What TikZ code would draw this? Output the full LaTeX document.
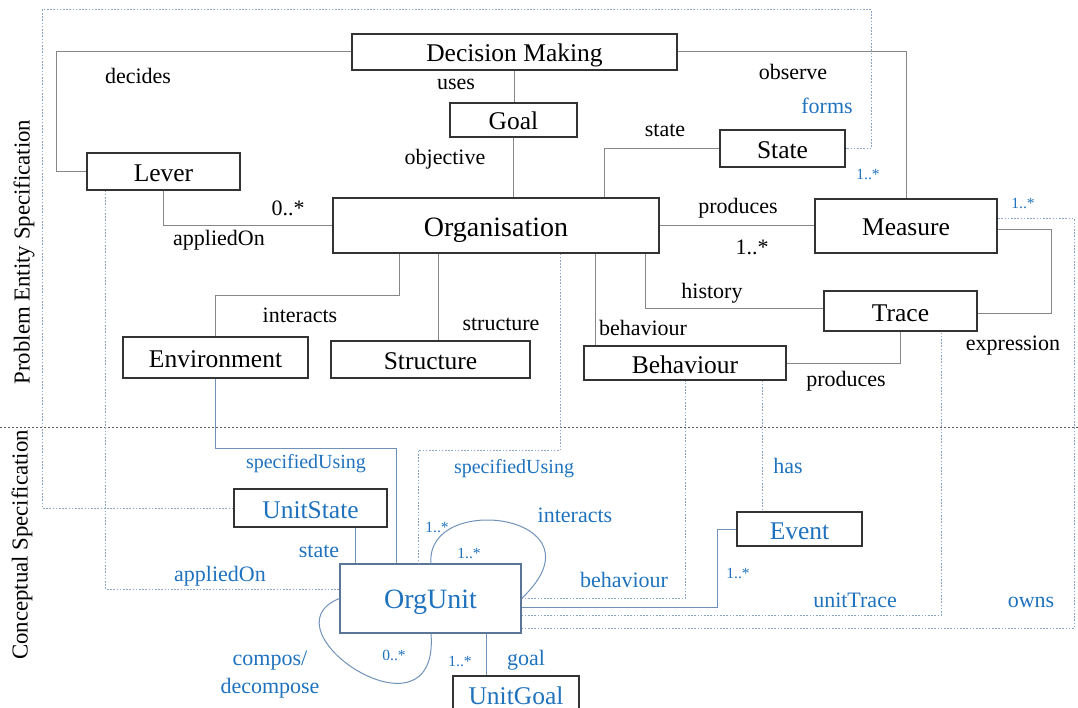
\documentclass[tikz,border=0pt]{standalone}
\usepackage{fontspec}
\setmainfont{Liberation Serif}
\usetikzlibrary{positioning}

\definecolor{unitblue}{RGB}{31,114,189}
\definecolor{dotblue}{RGB}{140,164,196}
\definecolor{edgeblue}{RGB}{112,146,186}
\definecolor{edgegray}{RGB}{135,135,135}

\tikzset{
	entity/.style={draw=black!80, line width=1.1pt, fill=white, inner sep=0pt, text height=20pt, text depth=0pt, font=\fontsize{25.5}{28}\selectfont},
	unitbox/.style={entity, text=unitblue},
	rel/.style={draw=edgegray, line width=1pt},
	unitrel/.style={draw=edgeblue, line width=1pt},
	dotrel/.style={draw=dotblue, line width=1pt, dash pattern=on 1.6pt off 1.6pt},
	lbl/.style={font=\fontsize{22}{24}\selectfont, inner sep=0pt},
	unitlbl/.style={lbl, text=unitblue},
	multlbl/.style={font=\fontsize{15.5}{17}\selectfont, text=unitblue, inner sep=0pt}
}

\begin{document}
\begin{tikzpicture}[x=1pt, y=-1pt]
		\useasboundingbox (0,0) rectangle (1078,708);

		% problem entities
		\node[entity, minimum width=325, minimum height=36] (decision) at (514.5,52) {Decision Making};
		\node[entity, minimum width=127, minimum height=34] (goal) at (513.5,120) {Goal};
		\node[entity, minimum width=153, minimum height=37] (lever) at (163.5,171.5) {Lever};
		\node[entity, minimum width=125, minimum height=37] (state) at (782.5,148.5) {State};
		\node[entity, minimum width=326, minimum height=55, text height=23pt, font=\fontsize{28}{30}\selectfont] (organisation) at (496,225.5) {Organisation};
		\node[entity, minimum width=182, minimum height=54] (measure) at (906,226) {Measure};
		\node[entity, minimum width=153, minimum height=40] (trace) at (900.5,311) {Trace};
		\node[entity, minimum width=185, minimum height=41] (environment) at (215.5,357.5) {Environment};
		\node[entity, minimum width=199, minimum height=37] (structure) at (430.5,359.5) {Structure};
		\node[entity, minimum width=202, minimum height=34] (behaviour) at (685,363) {Behaviour};

		% conceptual entities
		\node[unitbox, minimum width=153, minimum height=38] (unit_state) at (310.5,508) {UnitState};
		\node[unitbox, draw=edgeblue!80!black, minimum width=181, minimum height=69, font=\fontsize{28}{30}\selectfont] (org_unit) at (430.5,598.5) {OrgUnit};
		\node[unitbox, minimum width=125, minimum height=34] (event) at (799.5,529) {Event};
		\node[unitbox, minimum width=126, minimum height=36] (unit_goal) at (516,694) {UnitGoal};

		\draw[draw=black!65, line width=0.8pt, dash pattern=on 2pt off 2pt] (0,427) -- (1078,427);
		\node[lbl, rotate=90, font=\fontsize{22.8}{24}\selectfont] (problem_label) at (24,252) {Problem Entity Specification};
		\node[lbl, rotate=90, font=\fontsize{22.8}{24}\selectfont] (conceptual_label) at (22,545) {Conceptual Specification};

		% associations between problem entities
		\draw[rel] (decision.west) -| ([xshift=-30]lever.west) -- (lever.west);
		\draw[rel] (decision.south) -- (decision.south |- goal.north);
		\draw[rel] (goal.south) -- (goal.south |- organisation.north);
		\draw[rel] ([xshift=108]organisation.north) |- (state.west);
		\draw[rel] (decision.east) -| (measure.north);
		\draw[rel] (organisation.east) -- (organisation.east -| measure.west);
		\draw[rel] (lever.south) |- (organisation.west);
		\draw[rel] ([xshift=-97]organisation.south) |- ([yshift=41]environment.north) -- (environment.north);
		\draw[rel] ([xshift=-58]organisation.south) -- ([xshift=-58]organisation.south |- structure.north);
		\draw[rel] ([xshift=99]organisation.south) -- ([xshift=99]organisation.south |- behaviour.north);
		\draw[rel] ([xshift=149]organisation.south) |- ([yshift=2]trace.west);
		\draw[rel] ([yshift=-4]measure.east) -| ([xshift=74,yshift=-3]trace.east) -- ([yshift=-3]trace.east);
		\draw[rel] (behaviour.east) -| (trace.south);

		\node[lbl] (decides_label) at (138,76) {decides};
		\node[lbl] (uses_label) at (456,84) {uses};
		\node[lbl] (objective_label) at (445,159) {objective};
		\node[lbl] (state_label) at (665,130) {state};
		\node[lbl] (observe_label) at (793,72) {observe};
		\node[lbl] (produces_label) at (738,208) {produces};
		\node[lbl] (measure_mult) at (752,247) {1..*};
		\node[lbl] (lever_mult) at (288,208) {0..*};
		\node[lbl] (applied_label) at (219,240) {appliedOn};
		\node[lbl] (interacts_label) at (300,315) {interacts};
		\node[lbl] (structure_label) at (501,324) {structure};
		\node[lbl] (behaviour_label) at (643,328) {behaviour};
		\node[lbl] (history_label) at (712,293) {history};
		\node[lbl] (expression_label) at (1013,346) {expression};
		\node[lbl] (trace_label) at (846,381) {produces};

		% links from the conceptual level
		\coordinate (forms_corner) at (42,10);
		\draw[dotrel] (unit_state.west) -| (forms_corner) -| ([xshift=26]state.east) -- (state.east);
		\draw[dotrel] ([xshift=19]lever.south west) |- ([yshift=9.5]org_unit.west);
		\draw[unitrel] (environment.south) -- ++(0,70) -| ([xshift=-34.5]org_unit.north);
		\draw[dotrel] ([xshift=64]organisation.south) -- ++(0,197) -| ([xshift=-12.5]org_unit.north);
		\draw[unitrel] ([xshift=44.5]unit_state.south) -- ([xshift=44.5]unit_state.south |- org_unit.north);
		\draw[dotrel] (org_unit.east) -| (behaviour.south);
		\draw[dotrel] ([xshift=77]behaviour.south) -- ([xshift=77]behaviour.south |- event.north);
		\draw[unitrel] ([yshift=-8.5]org_unit.east) -| ([xshift=-19]event.west) -- (event.west);
		\draw[dotrel] ([yshift=-17]org_unit.east) -| ([xshift=40.5]trace.south);
		\draw[dotrel] ([yshift=-29.5]org_unit.east) -| ([xshift=77,yshift=7]measure.east) -- ([yshift=7]measure.east);
		\draw[unitrel] ([xshift=55.5]org_unit.south) -- ([xshift=55.5]org_unit.south |- unit_goal.north);

		% self associations of OrgUnit
		\draw[unitrel] ([xshift=0.5]org_unit.north) .. controls (425,490) and (610,515) .. (org_unit.east);
		\draw[unitrel] (org_unit.west) .. controls (260,630) and (440,750) .. ([xshift=0.5]org_unit.south);

		\node[unitlbl] (forms_label) at (827,106) {forms};
		\node[multlbl] (state_mult) at (868,174) {1..*};
		\node[multlbl] (owns_mult) at (1023,203) {1..*};
		\node[unitlbl, font=\fontsize{20}{22}\selectfont] (env_using_label) at (306,464) {specifiedUsing};
		\node[unitlbl, font=\fontsize{20}{22}\selectfont] (org_using_label) at (514,469) {specifiedUsing};
		\node[unitlbl] (has_label) at (788,466) {has};
		\node[unitlbl] (unit_state_label) at (319,551) {state};
		\node[unitlbl] (unit_applied_label) at (220,576) {appliedOn};
		\node[unitlbl] (unit_interacts_label) at (575,515) {interacts};
		\node[multlbl] (interacts_mult_out) at (437,527) {1..*};
		\node[multlbl] (interacts_mult_in) at (469,553) {1..*};
		\node[unitlbl] (unit_behaviour_label) at (624,580) {behaviour};
		\node[multlbl] (event_mult) at (738,573) {1..*};
		\node[unitlbl] (unit_trace_label) at (855,600) {unitTrace};
		\node[unitlbl] (owns_label) at (1031,602) {owns};
		\node[unitlbl, align=center, font=\fontsize{22}{28}\selectfont] (compose_label) at (270,675) {compos/\\decompose};
		\node[multlbl] (compose_mult) at (394,655) {0..*};
		\node[multlbl] (goal_mult) at (460,661) {1..*};
		\node[unitlbl] (goal_label) at (526,660) {goal};
\end{tikzpicture}
\end{document}
